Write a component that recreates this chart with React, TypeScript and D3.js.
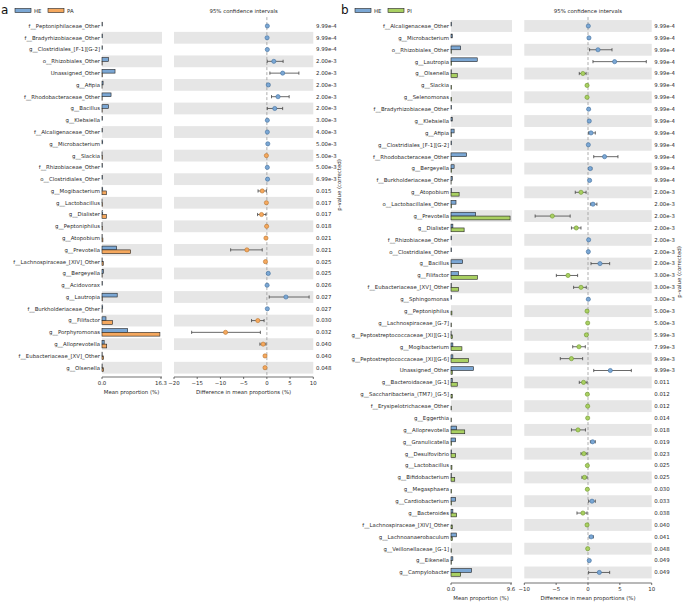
import React from "react";
import * as d3 from "d3";

// ---------- Panel a data (HE vs PA) ----------
const aTaxa = [
  "f__Peptoniphilaceae_Other", "f__Bradyrhizobiaceae_Other", "g__Clostridiales_[F-1][G-2]", "o__Rhizobiales_Other",
  "Unassigned_Other", "g__Afipia", "f__Rhodobacteraceae_Other", "g__Bacillus", "g__Klebsiella",
  "f__Alcaligenaceae_Other", "g__Microbacterium", "g__Slackia", "f__Rhizobiaceae_Other", "o__Clostridiales_Other",
  "g__Mogibacterium", "g__Lactobacillus", "g__Dialister", "g__Peptoniphilus", "g__Atopobium", "g__Prevotella",
  "f__Lachnospiraceae_[XIV]_Other", "g__Bergeyella", "g__Acidovorax", "g__Lautropia", "f__Burkholderiaceae_Other",
  "g__Filifactor", "g__Porphyromonas", "g__Alloprevotella", "f__Eubacteriaceae_[XV]_Other", "g__Olsenella",
];
const aHE = [0.1, 0.15, 0.1, 1.8, 3.6, 0.3, 2.5, 1.8, 0.15, 0.1, 0.2, 0.02, 0.1, 0.15, 0.2, 0.02, 0.2, 0.02, 0.05, 4.05, 0.05, 0.4, 0.1, 4.2, 0.2, 1.1, 7.1, 0.6, 0.05, 0.05];
const aPA = [0, 0, 0, 0.05, 0.1, 0.02, 0.05, 0.05, 0, 0, 0, 0.15, 0, 0, 1.2, 0.12, 1.2, 0.1, 0.25, 7.9, 0.35, 0.05, 0, 0.1, 0.05, 2.9, 16.0, 1.3, 0.4, 0.4];
const aDiff = [0.1, 0.05, 0.1, 1.5, 3.4, 0.3, 2.4, 1.7, 0.1, 0.1, 0.2, -0.1, 0.1, 0.15, -1.0, -0.1, -1.15, -0.05, -0.2, -4.3, -0.3, 0.3, 0.05, 4.1, 0.1, -1.95, -8.9, -0.8, -0.4, -0.4];
const aLow = [0.05, 0.02, 0.05, 0.07, 0.65, 0.1, 1.0, 0.1, 0.05, 0.05, 0.1, -0.2, 0.05, 0.05, -1.9, -0.2, -2.0, -0.1, -0.3, -7.8, -0.45, 0.1, 0.02, 0.5, 0.05, -3.3, -16.2, -1.5, -0.55, -0.55];
const aHigh = [0.15, 0.1, 0.15, 3.5, 6.9, 0.6, 4.8, 3.4, 0.15, 0.15, 0.3, -0.02, 0.15, 0.25, -0.1, -0.02, -0.2, 0, -0.1, -1.0, -0.15, 0.5, 0.1, 9.1, 0.2, -0.6, -1.4, -0.2, -0.25, -0.25];
const aP = ["9.99e-4", "9.99e-4", "9.99e-4", "2.00e-3", "2.00e-3", "2.00e-3", "2.00e-3", "2.00e-3", "3.00e-3", "4.00e-3", "5.00e-3", "5.00e-3", "5.00e-3", "6.99e-3", "0.015", "0.017", "0.017", "0.018", "0.021", "0.021", "0.025", "0.025", "0.026", "0.027", "0.027", "0.030", "0.032", "0.040", "0.040", "0.048"];
const aBarMax = 16.3;
const aDiffDomain = [-20, 10];
const aDiffTicks = [-20, -15, -10, -5, 0, 5, 10];

// ---------- Panel b data (HE vs PI) ----------
const bTaxa = [
  "f__Alcaligenaceae_Other", "g__Microbacterium", "o__Rhizobiales_Other", "g__Lautropia", "g__Olsenella", "g__Slackia",
  "g__Selenomonas", "f__Bradyrhizobiaceae_Other", "g__Klebsiella", "g__Afipia", "g__Clostridiales_[F-1][G-2]",
  "f__Rhodobacteraceae_Other", "g__Bergeyella", "f__Burkholderiaceae_Other", "g__Atopobium", "o__Lactobacillales_Other",
  "g__Prevotella", "g__Dialister", "f__Rhizobiaceae_Other", "o__Clostridiales_Other", "g__Bacillus", "g__Filifactor",
  "f__Eubacteriaceae_[XV]_Other", "g__Sphingomonas", "g__Peptoniphilus", "g__Lachnospiraceae_[G-7]",
  "g__Peptostreptococcaceae_[XI][G-1]", "g__Mogibacterium", "g__Peptostreptococcaceae_[XI][G-6]", "Unassigned_Other",
  "g__Bacteroidaceae_[G-1]", "g__Saccharibacteria_(TM7)_[G-5]", "f__Erysipelotrichaceae_Other", "g__Eggerthia",
  "g__Alloprevotella", "g__Granulicatella", "g__Desulfovibrio", "g__Lactobacillus", "g__Bifidobacterium",
  "g__Megasphaera", "g__Cardiobacterium", "g__Bacteroides", "f__Lachnospiraceae_[XIV]_Other",
  "g__Lachnoanaerobaculum", "g__Veillonellaceae_[G-1]", "g__Eikenella", "g__Campylobacter",
];
const bHE = [0.1, 0.2, 1.55, 4.2, 0.05, 0, 0, 0.1, 0.2, 0.5, 0.1, 2.5, 0.5, 0.2, 0.1, 0.8, 3.95, 0.3, 0.1, 0.1, 1.87, 1.2, 0.05, 0.1, 0, 0, 0.02, 0.3, 0.3, 3.6, 0.2, 0, 0, 0, 0.9, 0.75, 0.1, 0, 0.05, 0, 0.75, 0.3, 0, 0.85, 0, 0.3, 3.3];
const bPI = [0, 0, 0.05, 0.1, 1.0, 0.1, 0.1, 0, 0, 0.05, 0, 0.05, 0.1, 0.02, 1.3, 0.1, 9.45, 2.1, 0, 0, 0.1, 4.25, 1.2, 0, 0.15, 0.05, 0.2, 1.75, 2.8, 0.2, 1.0, 0.2, 0.05, 0.05, 2.2, 0.1, 0.75, 0.15, 0.6, 0.1, 0.1, 0.9, 0.2, 0.2, 0.05, 0.05, 1.55];
const bDiff = [0.05, 0.15, 1.57, 4.18, -0.8, -0.15, -0.15, 0.1, 0.2, 0.47, 0.05, 2.6, 0.35, 0.25, -1.1, 0.78, -5.6, -1.84, 0.1, 0.05, 1.88, -3.14, -1.1, 0.05, -0.15, -0.05, -0.25, -1.42, -2.6, 3.5, -0.7, -0.1, -0.05, -0.05, -1.57, 0.73, -0.65, -0.1, -0.55, -0.1, 0.63, -0.8, -0.15, 0.5, -0.05, 0.2, 1.78];
const bLow = [0.02, 0.08, 0.25, 0.78, -1.37, -0.25, -0.25, 0.05, 0.1, 0.1, 0.02, 0.9, 0.15, 0.12, -2.0, 0.37, -8.3, -2.6, 0.05, 0.02, 0.47, -4.97, -2.26, 0.02, -0.25, -0.1, -0.4, -2.4, -4.35, 0.9, -1.37, -0.2, -0.1, -0.1, -2.6, 0.37, -1.1, -0.2, -0.95, -0.2, 0.1, -1.73, -0.25, 0.2, -0.1, 0.1, 0.1];
const bHigh = [0.1, 0.25, 3.77, 9.15, -0.3, -0.05, -0.05, 0.15, 0.3, 1.15, 0.1, 4.7, 0.6, 0.4, -0.3, 1.4, -2.8, -1.1, 0.15, 0.1, 3.4, -1.63, -0.27, 0.1, -0.05, -0.01, -0.1, -0.42, -0.84, 6.8, -0.15, -0.02, -0.01, -0.01, -0.4, 1.15, -0.15, -0.02, -0.15, -0.02, 1.15, -0.15, -0.05, 0.85, -0.01, 0.3, 3.4];
const bP = ["9.99e-4", "9.99e-4", "9.99e-4", "9.99e-4", "9.99e-4", "9.99e-4", "9.99e-4", "9.99e-4", "9.99e-4", "9.99e-4", "9.99e-4", "9.99e-4", "9.99e-4", "9.99e-4", "2.00e-3", "2.00e-3", "2.00e-3", "2.00e-3", "2.00e-3", "2.00e-3", "2.00e-3", "3.00e-3", "3.00e-3", "3.00e-3", "5.00e-3", "5.00e-3", "5.99e-3", "7.99e-3", "9.99e-3", "9.99e-3", "0.011", "0.012", "0.012", "0.014", "0.018", "0.019", "0.023", "0.025", "0.025", "0.030", "0.033", "0.038", "0.040", "0.041", "0.048", "0.049", "0.049"];
const bBarMax = 9.6;
const bDiffDomain = [-10, 10];
const bDiffTicks = [-10, -5, 0, 5, 10];

const FONT = "DejaVu Sans, sans-serif";
const FS = 5.4;
const TXT = "#2a2a2a";
const GREY = "#e6e6e6";

type PanelProps = {
  letter: string;
  groups: [string, string];
  colors: [string, string];
  strokes: [string, string];
  taxa: string[];
  v1: number[];
  v2: number[];
  diff: number[];
  low: number[];
  high: number[];
  pv: string[];
  barMax: number;
  diffDomain: number[];
  diffTicks: number[];
  ox: number;
  rowTop: number;
  rowBottom: number;
  greyParity: number;
  barX: [number, number];
  diffX: [number, number];
  pX: number;
  axisY: number;
  pLabelX: number;
  pLabelY: number;
};

function fmtTick(v: number) {
  return v < 0 ? "\u2212" + Math.abs(v) : String(v);
}

function Panel(p: PanelProps) {
  const y = d3.scaleBand<number>().domain(p.taxa.map((_, i) => i)).range([p.rowTop, p.rowBottom]).paddingInner(0).paddingOuter(0);
  const bw = y.bandwidth();
  const xb = d3.scaleLinear().domain([0, p.barMax]).range([p.ox + p.barX[0], p.ox + p.barX[1]]);
  const xd = d3.scaleLinear().domain(p.diffDomain).range([p.ox + p.diffX[0], p.ox + p.diffX[1]]);
  const barH = bw * 0.32;
  const x0b = xb(0);
  const axisY = p.axisY;
  return (
    <g>
      {/* letter and legend */}
      <text x={p.ox + 1} y={14} fontFamily={FONT} fontSize={12} fill="#111">{p.letter}</text>
      <rect x={p.ox + 15} y={8.5} width={16} height={4} fill={p.colors[0]} stroke="#222" strokeWidth={0.6} />
      <text x={p.ox + 34} y={12.5} fontFamily={FONT} fontSize={FS} fill={TXT}>{p.groups[0]}</text>
      <rect x={p.ox + 48} y={8.5} width={16} height={4} fill={p.colors[1]} stroke="#222" strokeWidth={0.6} />
      <text x={p.ox + 67} y={12.5} fontFamily={FONT} fontSize={FS} fill={TXT}>{p.groups[1]}</text>
      <text x={(xd.range()[0] + xd.range()[1]) / 2} y={12.5} textAnchor="middle" fontFamily={FONT} fontSize={FS} fill={TXT}>95% confidence intervals</text>

      {/* grey bands */}
      {p.taxa.map((_, i) =>
        i % 2 === p.greyParity ? (
          <g key={"band" + i}>
            <rect x={xb.range()[0]} y={y(i)!} width={xb.range()[1] - xb.range()[0] + 1} height={bw} fill={GREY} />
            <rect x={xd.range()[0]} y={y(i)!} width={xd.range()[1] - xd.range()[0]} height={bw} fill={GREY} />
          </g>
        ) : null
      )}

      {/* zero line */}
      <line x1={xd(0)} x2={xd(0)} y1={p.rowTop - 3} y2={axisY} stroke="#9a9a9a" strokeWidth={0.8} strokeDasharray="3,2" />

      {/* labels, bars, CI */}
      {p.taxa.map((t, i) => {
        const cy = y(i)! + bw / 2;
        const pos = p.diff[i] >= 0;
        const col = pos ? p.colors[0] : p.colors[1];
        const sc = pos ? p.strokes[0] : p.strokes[1];
        const xl = xd(p.low[i]);
        const xh = xd(p.high[i]);
        return (
          <g key={"row" + i}>
            <text x={x0b - 2} y={cy + 1.9} textAnchor="end" fontFamily={FONT} fontSize={FS} fill={TXT}>{t}</text>
            <rect x={x0b} y={cy - barH} width={Math.max(0, xb(p.v1[i]) - x0b)} height={barH} fill={p.colors[0]} stroke="#222" strokeWidth={0.6} />
            <rect x={x0b} y={cy} width={Math.max(0, xb(p.v2[i]) - x0b)} height={barH} fill={p.colors[1]} stroke="#222" strokeWidth={0.6} />
            <line x1={xl} x2={xh} y1={cy} y2={cy} stroke="#444" strokeWidth={0.8} />
            <line x1={xl} x2={xl} y1={cy - 1.6} y2={cy + 1.6} stroke="#444" strokeWidth={0.8} />
            <line x1={xh} x2={xh} y1={cy - 1.6} y2={cy + 1.6} stroke="#444" strokeWidth={0.8} />
            <circle cx={xd(p.diff[i])} cy={cy} r={2.1} fill={col} stroke={sc} strokeWidth={0.6} />
            <text x={p.ox + p.pX} y={cy + 1.9} fontFamily={FONT} fontSize={FS} fill={TXT}>{p.pv[i]}</text>
          </g>
        );
      })}

      {/* bar axis */}
      <line x1={xb.range()[0]} x2={xb.range()[1] + 1} y1={axisY} y2={axisY} stroke="#333" strokeWidth={0.7} />
      {[0, p.barMax].map((v) => (
        <g key={"bt" + v}>
          <line x1={xb(v)} x2={xb(v)} y1={axisY} y2={axisY + 2} stroke="#333" strokeWidth={0.7} />
          <text x={xb(v)} y={axisY + 8} textAnchor="middle" fontFamily={FONT} fontSize={FS} fill={TXT}>{v.toFixed(1)}</text>
        </g>
      ))}
      <text x={(xb.range()[0] + xb.range()[1]) / 2} y={axisY + 17} textAnchor="middle" fontFamily={FONT} fontSize={FS} fill={TXT}>Mean proportion (%)</text>

      {/* diff axis */}
      <line x1={xd.range()[0]} x2={xd.range()[1]} y1={axisY} y2={axisY} stroke="#333" strokeWidth={0.7} />
      {p.diffTicks.map((v) => (
        <g key={"dt" + v}>
          <line x1={xd(v)} x2={xd(v)} y1={axisY} y2={axisY + 2} stroke="#333" strokeWidth={0.7} />
          <text x={xd(v)} y={axisY + 8} textAnchor="middle" fontFamily={FONT} fontSize={FS} fill={TXT}>{fmtTick(v)}</text>
        </g>
      ))}
      <text x={(xd.range()[0] + xd.range()[1]) / 2} y={axisY + 17} textAnchor="middle" fontFamily={FONT} fontSize={FS} fill={TXT}>Difference in mean proportions (%)</text>

      {/* p-value label */}
      <text x={p.pLabelX} y={p.pLabelY} transform={`rotate(-90 ${p.pLabelX} ${p.pLabelY})`} textAnchor="middle" fontFamily={FONT} fontSize={FS} fill={TXT}>p-value (corrected)</text>
    </g>
  );
}

export default function App() {
  const blue = "#7ba7d4";
  const blueS = "#3f6f9e";
  return (
    <svg width={685} height={602} style={{ position: "absolute", left: 0, top: 0, background: "#fff" }}>
      <rect x={0} y={0} width={685} height={602} fill="#fff" />
      <Panel
        letter="a"
        groups={["HE", "PA"]}
        colors={[blue, "#f5a85e"]}
        strokes={[blueS, "#b8752f"]}
        taxa={aTaxa}
        v1={aHE}
        v2={aPA}
        diff={aDiff}
        low={aLow}
        high={aHigh}
        pv={aP}
        barMax={aBarMax}
        diffDomain={aDiffDomain}
        diffTicks={aDiffTicks}
        ox={0}
        rowTop={20.1}
        rowBottom={373.6}
        greyParity={1}
        barX={[102, 161]}
        diffX={[174, 313.3]}
        pX={316}
        axisY={377}
        pLabelX={341}
        pLabelY={185}
      />
      <Panel
        letter="b"
        groups={["HE", "PI"]}
        colors={[blue, "#a9d062"]}
        strokes={[blueS, "#6d962c"]}
        taxa={bTaxa}
        v1={bHE}
        v2={bPI}
        diff={bDiff}
        low={bLow}
        high={bHigh}
        pv={bP}
        barMax={bBarMax}
        diffDomain={bDiffDomain}
        diffTicks={bDiffTicks}
        ox={340}
        rowTop={20.06}
        rowBottom={578.4}
        greyParity={0}
        barX={[111, 171]}
        diffX={[184.3, 311.7]}
        pX={314.3}
        axisY={583}
        pLabelX={681}
        pLabelY={272}
      />
    </svg>
  );
}
